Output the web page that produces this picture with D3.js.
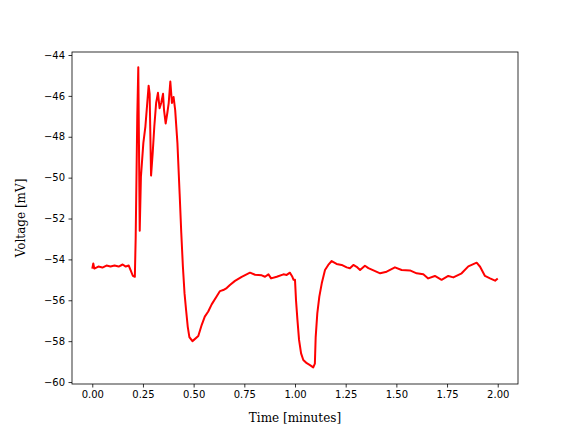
<!DOCTYPE html>
<html>
<head>
<meta charset="utf-8">
<script src="https://cdn.jsdelivr.net/npm/d3@7"></script>
<style>
  body { margin: 0; background: #fff; }
  .tick text { font-family: "DejaVu Sans", sans-serif; font-size: 10px; fill: #000; }
  .axis-label { font-family: "DejaVu Serif", serif; font-size: 12px; fill: #000; }
</style>
</head>
<body>
<div id="chart"></div>
<script>
// time in minutes
const time = [
  0.000, 0.005, 0.010, 0.030, 0.050, 0.070, 0.090, 0.110, 0.130, 0.150,
  0.165, 0.180, 0.190, 0.200, 0.210, 0.214, 0.222, 0.227, 0.230, 0.234,
  0.240, 0.252, 0.262, 0.270, 0.278, 0.283, 0.290, 0.298, 0.306, 0.315,
  0.324, 0.332, 0.340, 0.349, 0.354, 0.362, 0.370, 0.377, 0.385, 0.393,
  0.401, 0.409, 0.420, 0.431, 0.439, 0.447, 0.455, 0.463, 0.471, 0.479,
  0.494, 0.500, 0.523, 0.540, 0.555, 0.572, 0.589, 0.614, 0.630, 0.646,
  0.663, 0.679, 0.704, 0.737, 0.778, 0.803, 0.836, 0.852, 0.869, 0.882,
  0.910, 0.943, 0.959, 0.975, 0.987, 0.993, 1.000, 1.005, 1.012, 1.020,
  1.030, 1.041, 1.058, 1.074, 1.090, 1.098, 1.102, 1.110, 1.120, 1.132,
  1.148, 1.164, 1.181, 1.205, 1.230, 1.255, 1.271, 1.288, 1.304, 1.321,
  1.345, 1.362, 1.387, 1.420, 1.452, 1.493, 1.526, 1.567, 1.600, 1.633,
  1.657, 1.690, 1.723, 1.756, 1.781, 1.822, 1.855, 1.896, 1.913, 1.937,
  1.962, 1.987, 2.000
];

// voltage in mV
const voltage = [
  -54.45, -54.20, -54.45, -54.35, -54.40, -54.30, -54.35, -54.30, -54.35, -54.25,
  -54.35, -54.30, -54.55, -54.80, -54.85, -53.00, -47.00, -44.60, -48.00, -52.60,
  -49.95, -48.30, -47.50, -46.50, -45.50, -45.90, -49.90, -48.80, -47.50, -46.35,
  -45.85, -46.60, -46.35, -45.90, -46.70, -47.35, -46.85, -46.35, -45.30, -46.35,
  -46.05, -46.70, -48.30, -50.80, -52.70, -54.35, -55.65, -56.50, -57.30, -57.80,
  -58.00, -57.95, -57.75, -57.20, -56.80, -56.55, -56.20, -55.80, -55.55, -55.50,
  -55.40, -55.25, -55.05, -54.85, -54.65, -54.75, -54.78, -54.85, -54.73, -54.93,
  -54.85, -54.73, -54.76, -54.65, -54.85, -55.00, -55.00, -56.00, -56.96, -57.94,
  -58.60, -58.92, -59.08, -59.17, -59.28, -59.10, -57.80, -56.64, -55.82, -55.17,
  -54.52, -54.27, -54.08, -54.22, -54.27, -54.39, -54.43, -54.27, -54.36, -54.52,
  -54.31, -54.43, -54.54, -54.68, -54.60, -54.39, -54.52, -54.54, -54.68, -54.73,
  -54.93, -54.81, -55.00, -54.81, -54.88, -54.68, -54.34, -54.16, -54.36, -54.81,
  -54.93, -55.04, -54.93
];

const xTicks = [0.00, 0.25, 0.50, 0.75, 1.00, 1.25, 1.50, 1.75, 2.00];
const yTicks = [-60, -58, -56, -54, -52, -50, -48, -46, -44];

const width = 576, height = 432;
const margin = { top: 52, right: 58, bottom: 48, left: 72 };

const svg = d3.select("#chart").append("svg")
    .attr("width", width)
    .attr("height", height);

const x = d3.scaleLinear()
    .domain([-0.1, 2.1])
    .range([margin.left, width - margin.right]);

const y = d3.scaleLinear()
    .domain([-60.096, -43.853])
    .range([height - margin.bottom, margin.top]);

const data = time.map((t, i) => ({ t: t, v: voltage[i] }));

const line = d3.line()
    .x((d) => x(d.t))
    .y((d) => y(d.v));

svg.append("path")
    .datum(data)
    .attr("fill", "none")
    .attr("stroke", "#ff0000")
    .attr("stroke-width", 2)
    .attr("stroke-linejoin", "round")
    .attr("d", line);

const minus = (n) => String(n).replace("-", "\u2212");

const xAxis = svg.append("g")
    .attr("transform", "translate(0," + (height - margin.bottom) + ")")
    .call(d3.axisBottom(x).tickValues(xTicks).tickSize(3.5).tickPadding(3.5)
      .tickFormat(d3.format(".2f")));

const yAxis = svg.append("g")
    .attr("transform", "translate(" + margin.left + ",0)")
    .call(d3.axisLeft(y).tickValues(yTicks).tickSize(3.5).tickPadding(3.5)
      .tickFormat(minus));

[xAxis, yAxis].forEach((g) => {
  g.select(".domain").remove();
  g.selectAll(".tick line").attr("stroke", "#000").attr("stroke-width", 0.8);
});

// frame
svg.append("rect")
    .attr("x", margin.left)
    .attr("y", margin.top)
    .attr("width", width - margin.left - margin.right)
    .attr("height", height - margin.top - margin.bottom)
    .attr("fill", "none")
    .attr("stroke", "#000")
    .attr("stroke-width", 0.8);

svg.append("text")
    .attr("class", "axis-label")
    .attr("x", (margin.left + width - margin.right) / 2)
    .attr("y", 422)
    .attr("text-anchor", "middle")
    .text("Time [minutes]");

svg.append("text")
    .attr("class", "axis-label")
    .attr("transform", "translate(25," + (margin.top + height - margin.bottom) / 2 + ") rotate(-90)")
    .attr("text-anchor", "middle")
    .text("Voltage [mV]");
</script>
</body>
</html>
